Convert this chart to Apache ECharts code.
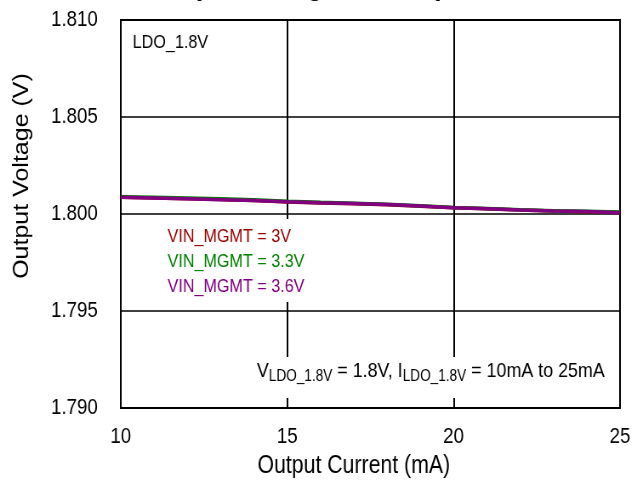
<!DOCTYPE html>
<html>
<head>
<meta charset="utf-8">
<script src="https://cdn.jsdelivr.net/npm/echarts@6/dist/echarts.min.js"></script>
<style>
  html, body { margin: 0; padding: 0; background: #fff; overflow: hidden; }
  #wrap { width: 643px; height: 482px; overflow: hidden; }
  /* the plot is laid out on a wider canvas and squeezed horizontally */
  #chart { width: 756px; height: 482px; transform: scaleX(0.8505); transform-origin: 0 0; }
</style>
</head>
<body>
<div id="wrap"><div id="chart"></div></div>
<script>
// Output current sweep (mA)
const currents = [10, 11, 12, 13, 14, 15, 16, 17, 18, 19, 20, 21, 22, 23, 24, 25];

// LDO_1.8V output voltage (V) for each VIN_MGMT supply
const vin3v0 = [1.80086, 1.80082, 1.80078, 1.80075, 1.80070, 1.80062, 1.80057, 1.80053,
                1.80048, 1.80040, 1.80032, 1.80027, 1.80020, 1.80015, 1.80012, 1.80008];
const vin3v3 = [1.80089, 1.80086, 1.80082, 1.80078, 1.80074, 1.80066, 1.80060, 1.80055,
                1.80050, 1.80042, 1.80034, 1.80028, 1.80022, 1.80017, 1.80014, 1.80010];
const vin3v6 = [1.80086, 1.80082, 1.80078, 1.80074, 1.80070, 1.80063, 1.80058, 1.80054,
                1.80049, 1.80041, 1.80032, 1.80027, 1.80021, 1.80016, 1.80013, 1.80006];

const seriesNames = ['VIN_MGMT = 3V', 'VIN_MGMT = 3.3V', 'VIN_MGMT = 3.6V'];
const seriesColors = ['#990000', '#008000', '#800080'];
const seriesData = [vin3v0, vin3v3, vin3v6];

const FONT = '"Liberation Sans", Arial, Helvetica, sans-serif';

const chart = echarts.init(document.getElementById('chart'), null, { renderer: 'canvas' });

const pairs = arr => currents.map((c, i) => [c, arr[i]]);

const option = {
  backgroundColor: '#fff',
  animation: false,
  textStyle: { fontFamily: FONT },
  title: {
    text: 'Output Voltage vs. Output Current',
    left: 172,
    top: -35,
    textStyle: { fontFamily: FONT, fontSize: 31, fontWeight: 'bold', color: '#000' }
  },
  grid: {
    left: 142, right: 27, top: 20, bottom: 74,
    show: true, borderColor: '#000', borderWidth: 2, backgroundColor: 'transparent'
  },
  xAxis: {
    type: 'value',
    min: 10, max: 25, interval: 5,
    axisLine: { show: true, lineStyle: { color: '#000', width: 2 } },
    axisTick: { show: false },
    axisLabel: { fontFamily: FONT, fontSize: 22, color: '#000', margin: 18 },
    splitLine: { show: true, lineStyle: { color: '#000', width: 2 } }
  },
  yAxis: {
    type: 'value',
    min: 1.790, max: 1.810, interval: 0.005,
    axisLine: { show: true, lineStyle: { color: '#000', width: 2 } },
    axisTick: { show: false },
    axisLabel: {
      fontFamily: FONT, fontSize: 22, color: '#000', margin: 27,
      formatter: v => v.toFixed(3)
    },
    splitLine: { show: true, lineStyle: { color: '#000', width: 1.5 } }
  },
  series: seriesData.map((d, i) => ({
    name: seriesNames[i],
    type: 'line',
    data: pairs(d),
    showSymbol: false,
    symbol: 'none',
    lineStyle: { color: seriesColors[i], width: 3.5 },
    z: 3 + i
  })),
  graphic: [
    // axis titles
    {
      type: 'text', x: 416, y: 466, z: 10,
      style: {
        text: 'Output Current (mA)', fontFamily: FONT, fontSize: 25, fill: '#000',
        align: 'center', verticalAlign: 'middle'
      }
    },
    {
      type: 'text', x: 26, y: 176, rotation: Math.PI / 2, z: 10,
      style: {
        text: 'Output Voltage (V)', fontFamily: FONT, fontSize: 25, fill: '#000',
        align: 'center', verticalAlign: 'middle'
      }
    },
    {
      type: 'text', left: 156, top: 33, z: 10,
      style: { text: 'LDO_1.8V', fontFamily: FONT, fontSize: 19, fill: '#000' }
    },
    // series key with a white panel behind it
    {
      type: 'rect', left: 188, top: 219, z: 9,
      shape: { width: 212, height: 83 },
      style: { fill: '#fff' }
    },
    ...seriesNames.map((n, i) => ({
      type: 'text', left: 197, top: 227 + i * 25, z: 10,
      style: { text: n, fontFamily: FONT, fontSize: 19, fill: seriesColors[i] }
    })),
    // test condition note
    {
      type: 'rect', left: 292, top: 357, z: 9,
      shape: { width: 428, height: 41 },
      style: { fill: '#fff' }
    },
    {
      type: 'text', right: 45, top: 361, z: 10,
      style: {
        text: '{n|V}{s|LDO_1.8V}{n| = 1.8V, I}{s|LDO_1.8V}{n| = 10mA to 25mA}',
        fontFamily: FONT,
        fill: '#000',
        rich: {
          n: { fontFamily: FONT, fontSize: 21, lineHeight: 24, verticalAlign: 'top' },
          s: { fontFamily: FONT, fontSize: 16, lineHeight: 24, verticalAlign: 'top', padding: [8, 0, 0, 0] }
        }
      }
    }
  ]
};

chart.setOption(option);
</script>
</body>
</html>
